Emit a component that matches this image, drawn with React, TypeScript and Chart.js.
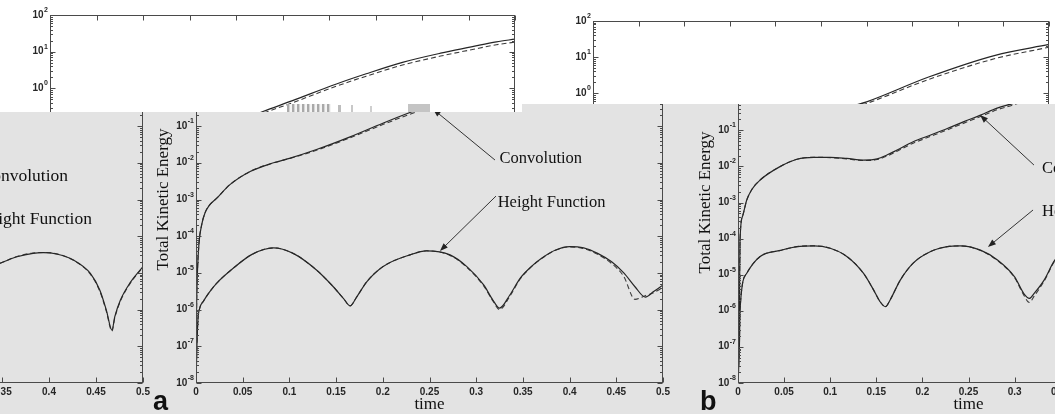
import React, { useEffect, useRef } from "react";
import { Chart, registerables } from "chart.js";
Chart.register(...registerables);

// ---------- tick labels ----------
const timeTicks = [0, 0.05, 0.1, 0.15, 0.2, 0.25, 0.3, 0.35, 0.4, 0.45, 0.5];
const decadeExponents = [-8, -7, -6, -5, -4, -3, -2, -1, 0, 1, 2];
const minorSteps = [2, 3, 4, 5, 6, 7, 8, 9];

// ---------- panel a ----------
const aConvTime = [0, 0.0006, 0.0015, 0.0032, 0.006, 0.0096, 0.014, 0.022, 0.036, 0.058, 0.083, 0.1, 0.129, 0.165, 0.2, 0.229, 0.26, 0.308, 0.34, 0.38, 0.42, 0.453, 0.48, 0.5];
const aConvSolid = [1.2e-8, 1e-6, 1e-5, 6.5e-5, 2.0e-4, 4.3e-4, 6.8e-4, 1.07e-3, 2.5e-3, 5.8e-3, 1.0e-2, 1.32e-2, 2.3e-2, 5.1e-2, 0.12, 0.234, 0.457, 1.32, 2.5, 5.2, 9.1, 13.5, 18.6, 21.9];
const aConvDashed = [1.2e-8, 1e-6, 1e-5, 6.5e-5, 2.0e-4, 4.3e-4, 6.8e-4, 1.07e-3, 2.5e-3, 5.8e-3, 1.0e-2, 1.3e-2, 2.2e-2, 4.8e-2, 0.11, 0.21, 0.4, 1.15, 2.15, 4.4, 7.6, 11.3, 15.5, 18.2];

const aHeightTime = [0, 0.001, 0.002, 0.004, 0.008, 0.014, 0.022, 0.04, 0.06, 0.083, 0.104, 0.129, 0.147, 0.158, 0.165, 0.172, 0.183, 0.2, 0.229, 0.247, 0.272, 0.29, 0.308, 0.318, 0.325, 0.336, 0.347, 0.358, 0.37, 0.385, 0.4, 0.415, 0.43, 0.445, 0.458, 0.47, 0.481, 0.49, 0.5];
const aHeightSolid = [1e-8, 1e-7, 5e-7, 1.1e-6, 1.7e-6, 2.9e-6, 5.2e-6, 1.35e-5, 3.2e-5, 4.8e-5, 3.4e-5, 1.2e-5, 4.2e-6, 2.0e-6, 1.26e-6, 2.2e-6, 5.8e-6, 1.48e-5, 3.1e-5, 4.0e-5, 3.1e-5, 1.48e-5, 4.7e-6, 1.8e-6, 1.1e-6, 2.5e-6, 7.1e-6, 1.41e-5, 2.5e-5, 4.2e-5, 5.2e-5, 4.8e-5, 3.4e-5, 2.0e-5, 1.0e-5, 4.2e-6, 2.2e-6, 3.1e-6, 4.7e-6];
const aHeightDashed = [1e-8, 1e-7, 5e-7, 1.1e-6, 1.7e-6, 2.9e-6, 5.2e-6, 1.35e-5, 3.2e-5, 4.8e-5, 3.4e-5, 1.2e-5, 4.2e-6, 2.0e-6, 1.26e-6, 2.2e-6, 5.8e-6, 1.48e-5, 3.1e-5, 4.0e-5, 3.0e-5, 1.42e-5, 4.4e-6, 1.7e-6, 1.0e-6, 2.3e-6, 6.8e-6, 1.38e-5, 2.45e-5, 4.15e-5, 5.1e-5, 4.6e-5, 3.2e-5, 1.8e-5, 8.0e-6, 1.9e-6, 2.4e-6, 2.9e-6, 4.0e-6];

// ---------- panel b ----------
const bConvTime = [0, 0.0015, 0.0022, 0.005, 0.0095, 0.015, 0.024, 0.046, 0.064, 0.082, 0.1, 0.118, 0.136, 0.151, 0.162, 0.172, 0.19, 0.209, 0.227, 0.245, 0.263, 0.281, 0.3, 0.368, 0.441, 0.5];
const bConvSolid = [1e-8, 1e-6, 9e-5, 4.2e-4, 1.17e-3, 2.3e-3, 4.2e-3, 1.0e-2, 1.58e-2, 1.78e-2, 1.78e-2, 1.66e-2, 1.5e-2, 1.62e-2, 2.1e-2, 2.8e-2, 4.8e-2, 7.4e-2, 0.112, 0.174, 0.263, 0.41, 0.575, 2.8, 11.2, 22.4];
const bConvDashed = [1e-8, 1e-6, 9e-5, 4.2e-4, 1.17e-3, 2.3e-3, 4.2e-3, 1.0e-2, 1.58e-2, 1.78e-2, 1.75e-2, 1.62e-2, 1.45e-2, 1.55e-2, 1.95e-2, 2.6e-2, 4.4e-2, 6.8e-2, 0.103, 0.158, 0.24, 0.37, 0.52, 2.4, 9.1, 18.8];

const bHeightTime = [0, 0.0015, 0.0022, 0.0095, 0.024, 0.046, 0.064, 0.082, 0.1, 0.118, 0.136, 0.147, 0.154, 0.16, 0.165, 0.176, 0.19, 0.209, 0.227, 0.241, 0.263, 0.281, 0.3, 0.31, 0.316, 0.321, 0.332, 0.344, 0.352];
const bHeightSolid = [1e-8, 1e-7, 1.05e-6, 1.1e-5, 3.2e-5, 4.7e-5, 6.0e-5, 6.3e-5, 5.4e-5, 3.2e-5, 1.1e-5, 3.8e-6, 1.8e-6, 1.3e-6, 2.0e-6, 7.1e-6, 2.1e-5, 4.4e-5, 6.0e-5, 6.3e-5, 4.8e-5, 2.6e-5, 8.7e-6, 3.0e-6, 2.2e-6, 3.0e-6, 7.1e-6, 2.6e-5, 3.6e-5];
const bHeightDashed = [1e-8, 1e-7, 1.05e-6, 1.1e-5, 3.2e-5, 4.7e-5, 6.0e-5, 6.3e-5, 5.4e-5, 3.2e-5, 1.1e-5, 3.8e-6, 1.8e-6, 1.3e-6, 2.0e-6, 7.1e-6, 2.1e-5, 4.4e-5, 6.0e-5, 6.3e-5, 4.7e-5, 2.5e-5, 8.2e-6, 2.7e-6, 1.7e-6, 2.5e-6, 6.6e-6, 2.5e-5, 3.5e-5];

// ---------- left fragment (right end of an earlier panel) ----------
const fragTime = [0.34, 0.348, 0.366, 0.383, 0.394, 0.408, 0.426, 0.444, 0.454, 0.461, 0.467, 0.47, 0.476, 0.486, 0.5];
const fragSolid = [1.5e-5, 1.83e-5, 2.76e-5, 3.42e-5, 3.55e-5, 3.27e-5, 2.24e-5, 9.7e-6, 3.42e-6, 9.7e-7, 2.75e-7, 6.4e-7, 1.82e-6, 5.25e-6, 1.48e-5];
const fragDashed = [1.5e-5, 1.83e-5, 2.8e-5, 3.5e-5, 3.6e-5, 3.3e-5, 2.2e-5, 9.2e-6, 3.2e-6, 9.0e-7, 2.6e-7, 6.0e-7, 1.7e-6, 5.0e-6, 1.45e-5];

// ---------- styling / layout ----------
const PADL = 60, PADT = 20, PADR = 30, PADB = 32;
const GRAY = "#e3e3e3";
const LINE = "#262626";
const DASH = "#3c3c3c";
const AXIS = "#4a4a4a";
const TICKTXT = "#262626";
const SANS = '"Liberation Sans", Arial, sans-serif';
const SERIF = '"Liberation Serif", "Times New Roman", serif';

const yTickValues = decadeExponents.flatMap((e) =>
  e === 2 ? [Math.pow(10, e)] : [Math.pow(10, e), ...minorSteps.map((k) => k * Math.pow(10, e))]
);
const isDecade = (v: number) => {
  const l = Math.log10(v);
  return Math.abs(l - Math.round(l)) < 1e-6;
};

type Series = { t: number[]; v: number[]; dashed: boolean };
type Txt = { text: string; t: number; v: number; align: CanvasTextAlign };
type Arrow = { from: [number, number]; to: [number, number] };
type Fig = { plotLeft: number; plotTop: number; plotW: number; plotH: number; series: Series[]; texts: Txt[]; arrows: Arrow[]; noteSize: number };

const seriesA: Series[] = [
  { t: aConvTime, v: aConvSolid, dashed: false },
  { t: aConvTime, v: aConvDashed, dashed: true },
  { t: aHeightTime, v: aHeightSolid, dashed: false },
  { t: aHeightTime, v: aHeightDashed, dashed: true },
];
const seriesB: Series[] = [
  { t: bConvTime, v: bConvSolid, dashed: false },
  { t: bConvTime, v: bConvDashed, dashed: true },
  { t: bHeightTime, v: bHeightSolid, dashed: false },
  { t: bHeightTime, v: bHeightDashed, dashed: true },
];
const seriesFrag: Series[] = [
  { t: fragTime, v: fragSolid, dashed: false },
  { t: fragTime, v: fragDashed, dashed: true },
];

const aTexts: Txt[] = [
  { text: "Convolution", t: 0.325, v: 1.0e-2, align: "left" },
  { text: "Height Function", t: 0.323, v: 6.25e-4, align: "left" },
];
const aArrows: Arrow[] = [
  { from: [0.3201, 1.19e-2], to: [0.2537, 0.292] },
  { from: [0.3212, 1.24e-3], to: [0.2612, 3.95e-5] },
];
const bTexts: Txt[] = [
  { text: "Convolution", t: 0.3297, v: 6.56e-3, align: "left" },
  { text: "Height Function", t: 0.3297, v: 4.23e-4, align: "left" },
];
const bArrows: Arrow[] = [
  { from: [0.321, 1.09e-2], to: [0.2625, 0.265] },
  { from: [0.32, 6.2e-4], to: [0.2711, 5.85e-5] },
];
const fragTexts: Txt[] = [
  { text: "Convolution", t: 0.4202, v: 3.19e-3, align: "right" },
  { text: "Height Function", t: 0.4457, v: 2.15e-4, align: "right" },
];

const figFrag: Fig = { plotLeft: -327, plotTop: 16, plotW: 470, plotH: 367, series: seriesFrag, texts: fragTexts, arrows: [], noteSize: 17.5 };
const figA: Fig = { plotLeft: 196, plotTop: 16, plotW: 467, plotH: 367, series: seriesA, texts: aTexts, arrows: aArrows, noteSize: 16.5 };
const figB: Fig = { plotLeft: 738, plotTop: 22, plotW: 461, plotH: 361, series: seriesB, texts: bTexts, arrows: bArrows, noteSize: 16.5 };
const figATop: Fig = { plotLeft: 50, plotTop: 15, plotW: 465, plotH: 367, series: seriesA, texts: [], arrows: [], noteSize: 16.5 };
const figBTop: Fig = { plotLeft: 593, plotTop: 21, plotW: 456, plotH: 361, series: seriesB, texts: [], arrows: [], noteSize: 16.5 };

// MATLAB-style box with inward ticks, and "10^n" decade labels with raised exponents
const boxPlugin = {
  id: "matlabBox",
  afterDatasetsDraw(chart: any) {
    const { ctx, chartArea, scales } = chart;
    const { left, right, top, bottom } = chartArea;
    const x = scales.x, y = scales.y;
    ctx.save();
    ctx.strokeStyle = AXIS;
    ctx.lineWidth = 1;
    const L = Math.round(left) + 0.5, R = Math.round(right) - 0.5, T = Math.round(top) + 0.5, B = Math.round(bottom) - 0.5;
    ctx.strokeRect(L, T, R - L, B - T);
    ctx.beginPath();
    y.ticks.forEach((tk: any) => {
      const py = Math.round(y.getPixelForValue(tk.value)) + 0.5;
      const len = isDecade(tk.value) ? 5 : 2.5;
      ctx.moveTo(L, py); ctx.lineTo(L + len, py);
      ctx.moveTo(R, py); ctx.lineTo(R - len, py);
    });
    x.ticks.forEach((tk: any) => {
      const px = Math.round(x.getPixelForValue(tk.value)) + 0.5;
      ctx.moveTo(px, B); ctx.lineTo(px, B - 5);
      ctx.moveTo(px, T); ctx.lineTo(px, T + 5);
    });
    ctx.stroke();

    // decade labels
    ctx.fillStyle = TICKTXT;
    ctx.textBaseline = "alphabetic";
    ctx.textAlign = "right";
    y.ticks.forEach((tk: any) => {
      if (!isDecade(tk.value)) return;
      const e = Math.round(Math.log10(tk.value));
      const py = y.getPixelForValue(tk.value);
      const xr = left - 2;
      ctx.font = `bold 7px ${SANS}`;
      const ew = ctx.measureText(String(e)).width;
      ctx.fillText(String(e), xr, py - 3);
      ctx.font = `bold 10px ${SANS}`;
      ctx.fillText("10", xr - ew - 0.5, py + 2.5);
    });
    ctx.restore();
  },
};

const makeNotesPlugin = (fig: Fig) => ({
  id: "notes",
  afterDraw(chart: any) {
    const { ctx, scales } = chart;
    const x = scales.x, y = scales.y;
    ctx.save();
    ctx.fillStyle = "#111";
    ctx.strokeStyle = "#333";
    ctx.lineWidth = 1;
    ctx.font = `${fig.noteSize}px ${SERIF}`;
    ctx.textBaseline = "alphabetic";
    fig.texts.forEach((n) => {
      ctx.textAlign = n.align;
      ctx.fillText(n.text, x.getPixelForValue(n.t), y.getPixelForValue(n.v));
    });
    fig.arrows.forEach((a) => {
      const x1 = x.getPixelForValue(a.from[0]), y1 = y.getPixelForValue(a.from[1]);
      const x2 = x.getPixelForValue(a.to[0]), y2 = y.getPixelForValue(a.to[1]);
      const ang = Math.atan2(y2 - y1, x2 - x1);
      const hl = 8, hw = 3;
      ctx.beginPath();
      ctx.moveTo(x1, y1);
      ctx.lineTo(x2 - Math.cos(ang) * hl * 0.8, y2 - Math.sin(ang) * hl * 0.8);
      ctx.stroke();
      ctx.beginPath();
      ctx.moveTo(x2, y2);
      ctx.lineTo(x2 - Math.cos(ang) * hl - Math.sin(ang) * hw, y2 - Math.sin(ang) * hl + Math.cos(ang) * hw);
      ctx.lineTo(x2 - Math.cos(ang) * hl + Math.sin(ang) * hw, y2 - Math.sin(ang) * hl - Math.cos(ang) * hw);
      ctx.closePath();
      ctx.fillStyle = "#222";
      ctx.fill();
    });
    ctx.restore();
  },
});

function buildConfig(fig: Fig): any {
  const datasets = fig.series.map((s) => ({
    data: s.t.map((t, i) => ({ x: t, y: s.v[i] })),
    borderColor: s.dashed ? DASH : LINE,
    borderWidth: s.dashed ? 1.1 : 1.2,
    borderDash: s.dashed ? [5, 3] : [],
    pointRadius: 0,
    fill: false,
    cubicInterpolationMode: "monotone",
  }));
  const tickFont = { family: SANS, size: 10, weight: "bold" };
  const titleFont = { family: SERIF, size: 17, lineHeight: 1.2 };
  return {
    type: "line",
    data: { datasets },
    options: {
      responsive: false,
      maintainAspectRatio: false,
      animation: false,
      devicePixelRatio: 1,
      events: [],
      layout: { padding: { left: 0, top: PADT, right: PADR, bottom: 0 } },
      plugins: { legend: { display: false }, tooltip: { enabled: false }, title: { display: false } },
      scales: {
        x: {
          type: "linear",
          position: "bottom",
          min: 0,
          max: 0.5,
          afterBuildTicks: (s: any) => {
            s.ticks = timeTicks.map((value) => ({ value }));
          },
          afterFit: (s: any) => {
            s.height = PADB;
          },
          grid: { display: false, drawTicks: false },
          border: { display: false },
          ticks: {
            autoSkip: false,
            maxRotation: 0,
            padding: 3,
            color: TICKTXT,
            font: tickFont,
            callback: (v: any) => String(Number(Number(v).toFixed(2))),
          },
          title: { display: true, text: "time", color: "#111", font: titleFont, padding: { top: 0, bottom: 0 } },
        },
        y: {
          type: "logarithmic",
          position: "left",
          min: 1e-8,
          max: 100,
          afterBuildTicks: (s: any) => {
            s.ticks = yTickValues.map((value) => ({ value }));
          },
          afterFit: (s: any) => {
            s.width = PADL;
          },
          grid: { display: false, drawTicks: false },
          border: { display: false },
          ticks: { display: false, autoSkip: false },
          title: { display: true, text: "Total Kinetic Energy", color: "#111", font: titleFont, padding: { top: 17, bottom: 0 } },
        },
      },
    },
    plugins: [boxPlugin, makeNotesPlugin(fig)],
  };
}

function Panel({ fig, ox, oy }: { fig: Fig; ox: number; oy: number }) {
  const ref = useRef<HTMLCanvasElement>(null);
  const w = PADL + fig.plotW + PADR;
  const h = PADT + fig.plotH + PADB;
  useEffect(() => {
    if (!ref.current) return;
    const chart = new Chart(ref.current, buildConfig(fig));
    return () => chart.destroy();
  }, [fig]);
  return (
    <canvas
      ref={ref}
      width={w}
      height={h}
      style={{ position: "absolute", left: fig.plotLeft - PADL - ox, top: fig.plotTop - PADT - oy, width: w, height: h, display: "block" }}
    />
  );
}

const letter = (left: number): React.CSSProperties => ({
  position: "absolute",
  left,
  top: 284,
  font: `bold 27px ${SANS}`,
  lineHeight: "27px",
  color: "#111",
});

export default function App() {
  return (
    <div style={{ position: "fixed", left: 0, top: 0, width: 1055, height: 414, overflow: "hidden", background: "#fff" }}>
      <div style={{ position: "absolute", left: 0, top: 104, width: 1055, height: 310, overflow: "hidden", background: GRAY }}>
        <Panel fig={figFrag} ox={0} oy={104} />
        <Panel fig={figA} ox={0} oy={104} />
        <Panel fig={figB} ox={0} oy={104} />
        <div style={letter(153)}>a</div>
        <div style={letter(700)}>b</div>
      </div>
      <div style={{ position: "absolute", left: 0, top: 0, width: 522, height: 112, overflow: "hidden", background: "#fff" }}>
        <Panel fig={figATop} ox={0} oy={0} />
        <div style={{ position: "absolute", left: 287, top: 104, width: 44, height: 8, background: "repeating-linear-gradient(90deg, #a9a9a9 0 2px, #d6d6d6 2px 3px, #f4f4f4 3px 5px)" }} />
        <div style={{ position: "absolute", left: 338, top: 105, width: 3, height: 7, background: "#bdbdbd" }} />
        <div style={{ position: "absolute", left: 351, top: 105, width: 2, height: 7, background: "#c8c8c8" }} />
        <div style={{ position: "absolute", left: 370, top: 106, width: 2, height: 6, background: "#cfcfcf" }} />
        <div style={{ position: "absolute", left: 408, top: 104, width: 22, height: 8, background: "#c4c4c4" }} />
      </div>
      <div style={{ position: "absolute", left: 522, top: 0, width: 533, height: 104, overflow: "hidden", background: "#fff" }}>
        <Panel fig={figBTop} ox={522} oy={0} />
      </div>
    </div>
  );
}
